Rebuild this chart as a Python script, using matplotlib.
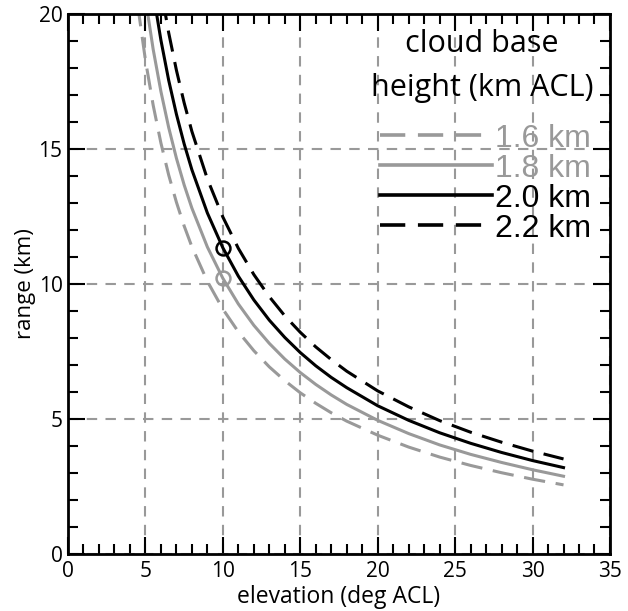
import matplotlib
matplotlib.use('Agg')
import matplotlib.pyplot as plt
from matplotlib.ticker import MultipleLocator

# elevation angle (deg ACL)
elev = [4.5, 5, 5.5, 6, 6.5, 7, 7.5, 8, 9, 10, 11, 12, 13, 14, 15, 16, 17, 18,
        20, 22, 24, 26, 28, 30, 32]

# range (km) for each cloud base height
r16 = [20.33, 18.29, 16.62, 15.22, 14.04, 13.03, 12.15, 11.38, 10.10, 9.07, 8.23, 7.53,
       6.93, 6.42, 5.97, 5.58, 5.23, 4.92, 4.40, 3.96, 3.59, 3.28, 3.01, 2.77, 2.56]
r18 = [22.87, 20.57, 18.69, 17.13, 15.80, 14.66, 13.67, 12.81, 11.37, 10.21, 9.26, 8.47,
       7.80, 7.22, 6.72, 6.28, 5.89, 5.54, 4.95, 4.46, 4.04, 3.69, 3.39, 3.12, 2.88]
r20 = [25.41, 22.86, 20.77, 19.03, 17.55, 16.29, 15.19, 14.23, 12.63, 11.34, 10.29, 9.41,
       8.66, 8.02, 7.46, 6.97, 6.54, 6.16, 5.49, 4.95, 4.49, 4.10, 3.76, 3.46, 3.20]
r22 = [27.95, 25.15, 22.85, 20.93, 19.31, 17.92, 16.71, 15.65, 13.89, 12.48, 11.32, 10.35,
       9.53, 8.82, 8.21, 7.67, 7.20, 6.77, 6.04, 5.45, 4.94, 4.51, 4.14, 3.81, 3.52]

labels = ['1.6 km', '1.8 km', '2.0 km', '2.2 km']

# marked points at 10 deg
mark_elev = [10, 10]
mark_range = [10.21, 11.34]

grey = '#999999'

fig = plt.figure(figsize=(6.28, 6.11), dpi=100)
ax = fig.add_axes([0.1083, 0.0933, 0.8630, 0.8838])

dash = (7, 3.5)
ax.plot(elev, r16, color=grey, lw=2.2, dashes=dash, label=labels[0])
ax.plot(elev, r18, color=grey, lw=2.2, label=labels[1])
ax.plot(elev, r20, color='black', lw=2.2, label=labels[2])
ax.plot(elev, r22, color='black', lw=2.2, dashes=dash, label=labels[3])

ax.plot(mark_elev[0], mark_range[0], 'o', ms=10, mfc='none', mec=grey, mew=1.8)
ax.plot(mark_elev[1], mark_range[1], 'o', ms=10, mfc='none', mec='black', mew=1.8)

ax.set_xlim(0, 35)
ax.set_ylim(0, 20)
ax.xaxis.set_major_locator(MultipleLocator(5))
ax.xaxis.set_minor_locator(MultipleLocator(1))
ax.yaxis.set_major_locator(MultipleLocator(5))
ax.yaxis.set_minor_locator(MultipleLocator(1))
ax.tick_params(which='both', direction='in', top=True, right=True, width=1.5,
               labelsize=15)
ax.tick_params(axis='y', pad=4)
ax.tick_params(axis='x', pad=5)
ax.tick_params(which='major', length=12)
ax.tick_params(which='minor', length=7)
for s in ax.spines.values():
    s.set_linewidth(2)

ax.grid(True, which='major', color=grey, lw=1.5, dashes=(5, 4))
ax.set_axisbelow(True)

ax.set_xlabel('elevation (deg ACL)', fontsize=16.5, family='Open Sans', labelpad=2)
ax.set_ylabel('range (km)', fontsize=16, family='Open Sans', labelpad=2)
for t in ax.get_xticklabels() + ax.get_yticklabels():
    t.set_family('Open Sans')

# legend title drawn as its own text block
ax.text(0.764, 0.904, 'cloud base\nheight (km ACL)', transform=ax.transAxes,
        ha='center', va='center', multialignment='center', fontsize=22,
        family='Open Sans', linespacing=1.6)

leg = ax.legend(loc='upper right', bbox_to_anchor=(0.966, 0.797), frameon=False,
                prop={'family': 'Liberation Sans', 'size': 23},
                handlelength=3.5, handletextpad=0.1, labelspacing=0.0,
                borderaxespad=0, borderpad=0)
for txt, c in zip(leg.get_texts(), [grey, grey, 'black', 'black']):
    txt.set_color(c)
for ln in leg.get_lines():
    ln.set_linewidth(2.6)

fig.savefig('out.png', dpi=100)
